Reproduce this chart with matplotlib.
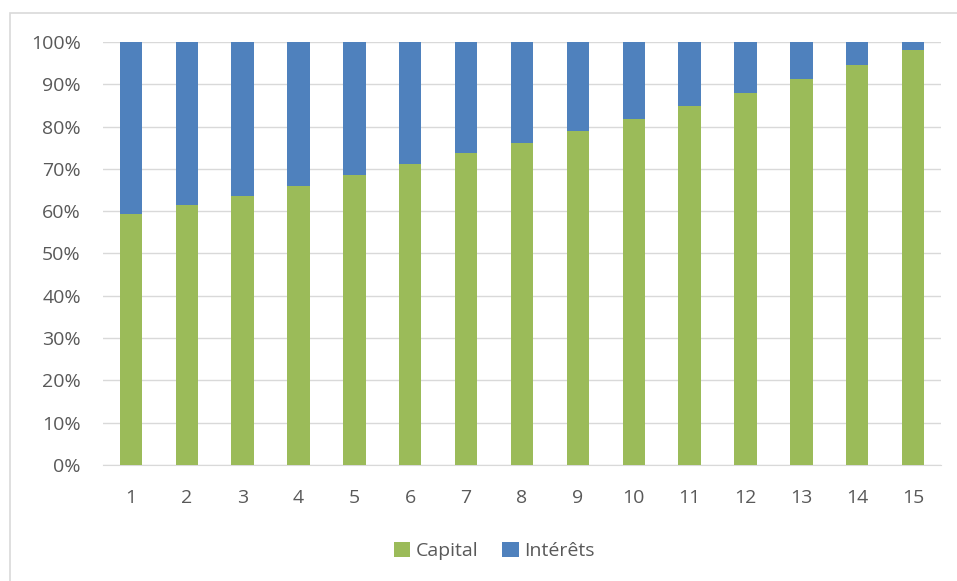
import matplotlib.pyplot as plt
from matplotlib.ticker import PercentFormatter
import matplotlib.patches as mpatches

plt.rcParams['font.family'] = ['Open Sans', 'DejaVu Sans']

periods = list(range(1, 16))
capital = [59.3, 61.5, 63.7, 66.0, 68.6, 71.1, 73.7, 76.2, 79.0, 81.9, 84.9, 88.0, 91.3, 94.6, 98.1]
interets = [100 - c for c in capital]

green = '#9BBB59'
blue = '#4F81BD'
grey_txt = '#595959'

fig = plt.figure(figsize=(9.57, 5.81), dpi=100)
# cadre du graphique (seuls les bords gauche et haut sont visibles)
fig.patches.append(mpatches.Rectangle((10 / 957, -10 / 581), 960 / 957, 578 / 581,
                                      transform=fig.transFigure, fill=False,
                                      edgecolor='#D9D9D9', linewidth=1.2))
ax = fig.add_axes([103 / 957, 1 - 465 / 581, 838 / 957, 423 / 581])

ax.bar(periods, capital, width=0.4, color=green, label='Capital', zorder=3)
ax.bar(periods, interets, width=0.4, bottom=capital, color=blue, label='Intérêts', zorder=3)

ax.set_ylim(0, 100)
ax.set_xlim(0.5, 15.5)
ax.set_yticks(range(0, 101, 10))
ax.yaxis.set_major_formatter(PercentFormatter(decimals=0))
ax.set_xticks(periods)
ax.grid(axis='y', color='#D9D9D9', linewidth=1, zorder=0)
for s in ['top', 'right', 'left']:
    ax.spines[s].set_visible(False)
ax.spines['bottom'].set_color('#D9D9D9')
ax.tick_params(length=0, labelsize=14, labelcolor=grey_txt)
ax.tick_params(axis='x', pad=17)
ax.tick_params(axis='y', pad=16)

ax.legend(loc='center', bbox_to_anchor=(0.467, -0.203), ncol=2, frameon=False,
          fontsize=14, labelcolor=grey_txt, handlelength=0.85, handleheight=0.85,
          handletextpad=0.3, columnspacing=1.2)

fig.savefig('out.png', dpi=100)
